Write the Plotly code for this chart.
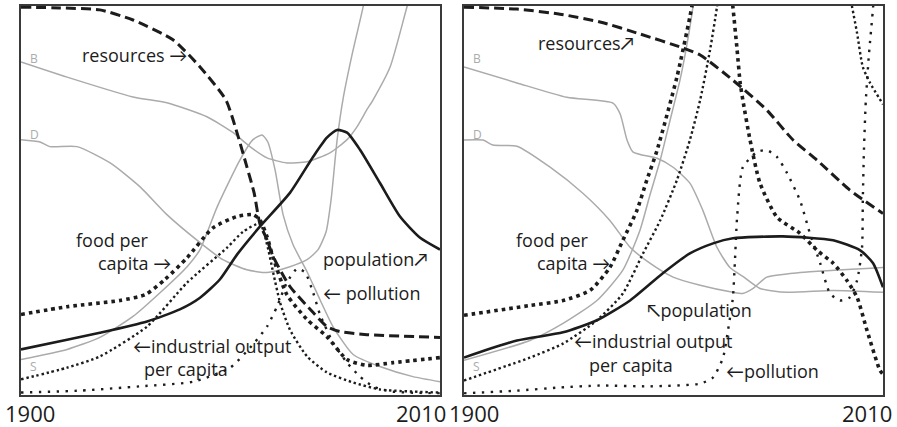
import plotly.graph_objects as go

W, H = 897, 427

# ---------------- data ----------------
x_range = [1900, 2010]
tick_labels = ["1900", "2010"]

# Left panel
L_res_x = [1900.0, 1910.2, 1920.7, 1929.4, 1939.9, 1947.0, 1953.8, 1956.7, 1959.3, 1961.2, 1962.7, 1964.6, 1966.2, 1970.6, 1976.7, 1980.3, 1983.7, 1990.8, 2010.0]
L_res_y = [99.7, 99.5, 99.0, 96.4, 91.3, 84.3, 75.8, 67.4, 58.6, 51.9, 44.0, 39.8, 35.5, 27.8, 21.1, 17.5, 16.2, 15.4, 14.7]

L_pop_x = [1900.0, 1912.1, 1920.7, 1933.1, 1941.7, 1947.0, 1952.2, 1956.7, 1962.7, 1970.6, 1976.7, 1980.3, 1983.0, 1985.6, 1989.0, 1994.2, 1999.5, 2004.7, 2010.0]
L_pop_y = [11.6, 14.1, 15.9, 18.8, 21.9, 24.9, 29.6, 36.0, 43.2, 51.9, 61.2, 66.1, 68.1, 67.4, 63.0, 54.5, 45.8, 40.4, 37.3]

L_food_x = [1900.0, 1912.1, 1926.0, 1932.6, 1937.8, 1943.6, 1950.4, 1956.7, 1960.9, 1962.7, 1964.6, 1966.2, 1969.8, 1975.1, 1980.3, 1985.6, 1990.8, 1997.7, 2010.0]
L_food_y = [20.6, 22.6, 24.2, 25.7, 29.6, 35.2, 42.9, 45.8, 46.3, 45.0, 40.6, 35.2, 25.7, 19.3, 14.9, 9.0, 7.5, 8.2, 9.5]

L_ind_x = [1900.0, 1912.1, 1920.7, 1933.1, 1943.6, 1954.1, 1958.3, 1962.7, 1964.6, 1966.2, 1968.0, 1970.6, 1975.1, 1980.3, 1987.2, 1994.2, 2010.0]
L_ind_y = [3.9, 6.9, 9.8, 17.5, 28.8, 37.8, 41.9, 44.0, 38.6, 31.4, 23.7, 16.7, 9.8, 5.7, 3.1, 1.3, 0.5]

L_pol_x = [1900.0, 1915.5, 1931.2, 1945.2, 1954.9, 1960.9, 1964.6, 1967.2, 1969.8, 1972.5, 1974.6, 1976.7, 1978.5, 1981.9, 1985.6, 1989.0, 1992.4, 1996.9, 2010.0]
L_pol_y = [0.5, 1.0, 2.1, 3.3, 6.9, 12.9, 17.5, 22.6, 28.8, 32.4, 31.4, 26.2, 20.6, 13.4, 8.2, 4.6, 2.1, 0.8, 0.3]

L_B_x = [1900.0, 1912.1, 1929.4, 1938.3, 1948.8, 1955.7, 1960.1, 1964.6, 1969.8, 1975.1, 1981.1, 1985.6, 1988.2, 1990.8, 1992.4, 1996.9, 2001.3, 2002.6]
L_B_y = [85.6, 81.7, 76.6, 75.1, 71.5, 67.4, 63.8, 60.9, 59.6, 59.9, 62.2, 65.6, 68.9, 73.3, 75.8, 84.3, 99.7, 104.0]

L_D_x = [1900.0, 1905.0, 1907.6, 1914.7, 1923.4, 1931.2, 1938.3, 1947.0, 1953.0, 1959.3, 1964.6, 1970.6, 1975.1, 1978.0, 1980.1, 1981.4, 1983.0, 1984.5, 1986.9, 1989.8, 1990.6]
L_D_y = [65.6, 65.0, 63.8, 63.8, 59.6, 53.5, 46.3, 39.1, 34.7, 32.1, 31.4, 32.9, 34.7, 37.3, 41.9, 50.1, 65.6, 75.8, 87.4, 99.7, 104.0]

L_S_x = [1900.0, 1912.1, 1920.7, 1929.4, 1936.5, 1943.6, 1947.0, 1951.5, 1957.5, 1960.9, 1963.3, 1964.8, 1966.7, 1968.8, 1971.4, 1975.1, 1978.5, 1981.9, 1987.2, 1994.2, 2002.9, 2010.0]
L_S_y = [9.0, 11.6, 14.7, 20.1, 26.2, 32.9, 37.3, 48.3, 60.4, 65.6, 66.8, 65.0, 57.8, 46.3, 38.6, 31.6, 24.4, 17.5, 10.3, 7.2, 4.6, 3.3]

# Right panel
R_res_x = [1900.0, 1913.9, 1925.2, 1935.7, 1946.2, 1957.5, 1962.0, 1970.6, 1979.5, 1986.4, 1992.7, 2001.3, 2010.0]
R_res_y = [99.7, 99.2, 97.9, 95.9, 92.8, 89.2, 87.4, 80.9, 73.2, 65.5, 60.3, 52.6, 46.6]

R_pop_x = [1900.0, 1913.9, 1926.0, 1934.9, 1943.6, 1952.2, 1959.3, 1965.4, 1970.6, 1983.7, 1996.9, 2004.0, 2007.4, 2010.0]
R_pop_y = [9.5, 13.9, 16.0, 19.1, 24.2, 31.2, 36.3, 38.9, 40.2, 40.7, 39.7, 37.1, 33.8, 27.6]

R_food_x = [1900.0, 1917.3, 1926.0, 1933.1, 1938.3, 1941.7, 1945.4, 1948.0, 1950.7, 1955.9, 1959.3, 1960.6, None,
            1970.1, 1970.6, 1971.7, 1972.5, 1973.2, 1975.1, 1977.7, 1982.2, 1988.2, 1992.7, 1996.9, 2000.5, 2003.2, 2005.8, 2009.2, 2010.0]
R_food_y = [20.4, 22.9, 24.2, 26.8, 32.7, 39.7, 47.4, 55.2, 62.9, 81.7, 97.2, 104.1, None,
            104.1, 99.7, 88.7, 80.2, 75.8, 65.5, 54.4, 45.6, 41.5, 37.1, 33.8, 29.4, 25.0, 16.5, 6.2, 5.2]

R_ind_x = [1900.0, 1917.3, 1926.0, 1934.9, 1941.7, 1947.0, 1951.5, 1955.9, 1959.3, 1962.0, 1964.6, 1966.4, 1966.9, None,
           2001.1, 2001.9, 2003.2, 2004.7, 2006.6, 2010.0]
R_ind_y = [3.6, 9.5, 13.1, 19.1, 26.0, 36.3, 44.8, 55.2, 65.5, 75.8, 88.7, 99.7, 104.0, None,
           104.0, 99.7, 93.0, 84.3, 80.2, 74.7]

R_pol_x = [1900.0, 1913.9, 1925.2, 1935.7, 1948.8, 1962.0, 1965.4, 1968.0, 1969.3, 1970.6, 1971.1, 1971.7, 1973.2, 1976.9, 1979.5, 1982.2, 1984.8, 1988.2, 1990.8, 1993.5, 1996.1, 1998.7, 2001.3, 2003.2, 2004.5, 2004.7, 2005.0, 2005.5, 2006.3, 2007.4, 2007.7]
R_pol_y = [0.3, 1.0, 1.8, 2.3, 2.1, 2.8, 4.4, 9.5, 16.5, 25.0, 33.8, 45.6, 58.5, 62.4, 62.9, 61.1, 57.0, 50.0, 41.5, 33.8, 26.0, 24.2, 25.0, 29.4, 37.9, 50.0, 62.9, 75.8, 87.4, 99.7, 104.0]

R_B_x = [1900.0, 1913.9, 1927.0, 1939.1, 1941.0, 1942.8, 1944.4, 1950.7, 1954.9, 1959.3, 1962.7, 1966.4, 1969.8, 1973.2, 1977.7, 1984.8, 1996.9, 2010.0]
R_B_y = [84.3, 80.2, 76.5, 75.0, 72.2, 65.5, 62.4, 60.8, 58.5, 54.4, 47.4, 37.9, 32.7, 30.4, 27.3, 26.3, 26.8, 26.3]

R_D_x = [1900.0, 1905.0, 1907.6, 1913.9, 1922.6, 1931.2, 1938.3, 1943.6, 1948.8, 1954.9, 1962.0, 1970.6, 1973.2, 1975.9, 1979.5, 1988.2, 2010.0]
R_D_y = [65.5, 65.5, 64.2, 63.9, 58.5, 51.8, 44.8, 37.9, 33.8, 30.2, 28.1, 26.3, 26.0, 27.3, 30.2, 31.4, 32.7]

R_S_x = [1900.0, 1917.3, 1926.0, 1934.9, 1941.7, 1946.2, 1948.8, 1951.5, 1954.1, 1956.7, 1958.5, 1960.1, 1960.6]
R_S_y = [8.8, 13.9, 18.3, 24.2, 32.0, 42.3, 51.3, 60.3, 70.6, 80.9, 89.9, 99.7, 104.0]

# ---------------- styles ----------------
BLACK = "#1c1c1c"
GRAY = "#ababab"
FONT = "'Open Sans', Lato, sans-serif"

styles = {
    "res": dict(color=BLACK, width=3, dash="10px,5px"),
    "pop": dict(color=BLACK, width=2.6),
    "food": dict(color=BLACK, width=3.6, dash="3.6px,4px"),
    "ind": dict(color=BLACK, width=2.4, dash="2.4px,2.8px"),
    "pol": dict(color=BLACK, width=2.4, dash="2.4px,6.5px"),
    "gray": dict(color=GRAY, width=1.5),
}

fig = go.Figure()

def add(x, y, key, ax):
    fig.add_trace(go.Scatter(
        x=x, y=y, mode="lines", line=dict(shape="spline", smoothing=0.6, **styles[key]),
        xaxis="x" if ax == 1 else "x2", yaxis="y" if ax == 1 else "y2",
        showlegend=False, hoverinfo="skip", connectgaps=False))

for ax, series in [
    (1, [(L_B_x, L_B_y, "gray"), (L_D_x, L_D_y, "gray"), (L_S_x, L_S_y, "gray"),
         (L_pol_x, L_pol_y, "pol"), (L_ind_x, L_ind_y, "ind"), (L_food_x, L_food_y, "food"),
         (L_res_x, L_res_y, "res"), (L_pop_x, L_pop_y, "pop")]),
    (2, [(R_B_x, R_B_y, "gray"), (R_D_x, R_D_y, "gray"), (R_S_x, R_S_y, "gray"),
         (R_pol_x, R_pol_y, "pol"), (R_ind_x, R_ind_y, "ind"), (R_food_x, R_food_y, "food"),
         (R_res_x, R_res_y, "res"), (R_pop_x, R_pop_y, "pop")]),
]:
    for x, y, k in series:
        add(x, y, k, ax)

frame = dict(showline=True, mirror=True, linecolor="#3a3a3a", linewidth=2,
             showgrid=False, zeroline=False, showticklabels=False, ticks="")
ydom = [1 - 394.5 / H, 1 - 6 / H]
fig.update_layout(
    width=W, height=H, margin=dict(l=0, r=0, t=0, b=0),
    paper_bgcolor="white", plot_bgcolor="white",
    xaxis=dict(domain=[21 / W, 440 / W], range=x_range, anchor="y", **frame),
    yaxis=dict(domain=ydom, range=[0, 100], anchor="x", **frame),
    xaxis2=dict(domain=[464 / W, 883 / W], range=x_range, anchor="y2", **frame),
    yaxis2=dict(domain=ydom, range=[0, 100], anchor="x2", **frame),
    font=dict(family=FONT, color=BLACK),
)

def px(x, y):
    return x / W, 1 - y / H

ann = []
def label(text, x, y, size=18, color=BLACK, anchor="left"):
    ax_, ay_ = px(x, y)
    ann.append(dict(text=text, x=ax_, y=ay_, xref="paper", yref="paper",
                    xanchor=anchor, yanchor="middle", showarrow=False,
                    font=dict(size=size, color=color, family=FONT)))

# left panel labels
label("resources \u2192", 80, 55)
label("food per", 74, 240)
label("capita \u2192", 96, 263)
label("population\u2197", 321, 259)
label("\u2190 pollution", 321, 293)
label("\u2190industrial output", 131, 346)
label("per capita", 142, 369)
# right panel labels
label("resources\u2197", 536, 43)
label("food per", 514, 240)
label("capita \u2192", 535, 263)
label("\u2196population", 645, 310)
label("\u2190industrial output", 572, 341)
label("per capita", 587, 365)
label("\u2190pollution", 724, 371)
# gray curve letters
for x0 in (28, 471):
    label("B", x0, 59, size=12, color=GRAY)
    label("D", x0, 134, size=12, color=GRAY)
    label("S", x0, 366, size=12, color=GRAY)
# tick labels
label(tick_labels[0], 3, 413, size=22)
label(tick_labels[1], 448, 413, size=22, anchor="right")
label(tick_labels[0], 447, 413, size=22)
label(tick_labels[1], 894, 413, size=22, anchor="right")

fig.update_layout(annotations=ann)
fig.write_html("out.html", config={"displayModeBar": False},
               post_script="document.body.style.margin='0px';document.body.style.overflow='hidden';")
